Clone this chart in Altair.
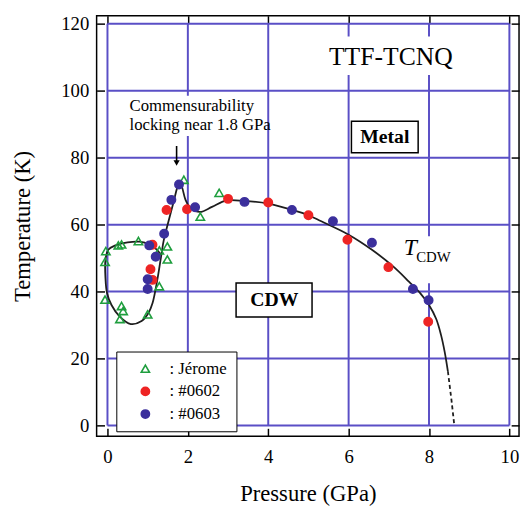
import altair as alt
import pandas as pd

FONT = "Liberation Serif"

# ---------------- data ----------------
SERIES = ["Jérome", "#0602", "#0603"]
SERIES_SHAPE = ["triangle-up", "circle", "circle"]
SERIES_STROKE = ["#1f9e3e", "#ee2424", "#3b2f9c"]
SERIES_FILL = ["transparent", "#ee2424", "#3b2f9c"]

jerome_p = [-0.04, -0.06, -0.06, 0.27, 0.35, 0.77, 1.29, 1.49, 1.49, 1.29, 1.00, 0.35, 0.39, 0.31, 1.90, 2.31, 2.78]
jerome_t = [52.1, 48.9, 37.6, 53.8, 54.1, 55.1, 52.3, 53.5, 49.6, 41.6, 33.2, 35.7, 34.2, 31.8, 73.4, 62.4, 69.5]

s0602_p = [1.12, 1.07, 1.12, 1.47, 1.98, 3.00, 4.00, 5.00, 5.97, 6.99, 7.98]
s0602_t = [54.0, 46.7, 43.5, 64.4, 64.6, 67.7, 66.6, 62.8, 55.5, 47.3, 31.0]

s0603_p = [1.00, 1.00, 1.04, 1.20, 1.41, 1.59, 1.78, 2.18, 3.41, 4.59, 5.61, 6.58, 7.60, 7.99]
s0603_t = [40.8, 43.7, 53.8, 50.4, 57.3, 67.4, 72.0, 65.2, 66.8, 64.4, 61.0, 54.6, 40.8, 37.4]

# guide curve T_CDW (drawn by hand in the original)
curve_p = [1.33, 1.22, 1.05, 0.80, 0.50, 0.20, 0.02, -0.05, -0.05, -0.01, 0.10, 0.30, 0.58, 0.85, 1.02,
           1.12, 1.24, 1.32, 1.40, 1.48, 1.65, 1.74, 1.80, 1.86, 1.94, 2.05, 2.30, 2.60, 2.95, 3.40,
           4.00, 4.59, 5.00, 5.32, 6.00, 6.58, 7.10, 7.50, 7.77, 8.00, 8.18, 8.30, 8.39, 8.47]
curve_t = [51.0, 52.6, 54.0, 54.9, 54.7, 53.8, 52.5, 49.5, 44.0, 39.5, 36.0, 32.6, 30.3, 31.2, 33.6,
           36.5, 43.5, 49.4, 55.3, 59.2, 67.0, 71.2, 72.8, 71.0, 67.5, 65.2, 63.8, 65.3, 67.2, 67.1,
           66.3, 64.4, 62.8, 61.0, 57.0, 52.5, 47.6, 43.0, 39.7, 36.0, 31.8, 27.0, 22.0, 16.2]
dash_p = [8.47, 8.56, 8.63]
dash_t = [16.2, 7.5, 0.0]

X_TICKS = [0, 2, 4, 6, 8, 10]
Y_TICKS = [0, 20, 40, 60, 80, 100, 120]
X_DOMAIN = [-0.27, 10.24]
Y_DOMAIN = [-3.2, 122.4]

# annotations
box_label = ["Metal", "CDW"]
box_p1 = [6.07, 3.20]
box_p2 = [7.73, 5.09]
box_t1 = [81.5, 32.4]
box_t2 = [90.9, 42.6]
box_tp = [6.90, 4.15]
box_tt = [86.2, 37.5]

bg_p1 = [5.40, 0.45, 7.30]
bg_p2 = [8.70, 3.85, 8.85]
bg_t1 = [104.7, 86.5, 42.5]
bg_t2 = [116.2, 98.5, 56.5]

note_text = ["Commensurability", "locking near 1.8 GPa"]
note_p = [0.55, 0.55]
note_t = [95.3, 89.7]

# ---------------- tables ----------------
pts = pd.DataFrame({
    "series": [SERIES[0]] * len(jerome_p) + [SERIES[1]] * len(s0602_p) + [SERIES[2]] * len(s0603_p),
    "P": jerome_p + s0602_p + s0603_p,
    "T": jerome_t + s0602_t + s0603_t,
})
curve = pd.DataFrame({"P": curve_p, "T": curve_t, "i": list(range(len(curve_p)))})
dash = pd.DataFrame({"P": dash_p, "T": dash_t, "i": list(range(len(dash_p)))})
vgrid = pd.DataFrame({"g": X_TICKS})
hgrid = pd.DataFrame({"g": Y_TICKS})
boxes = pd.DataFrame({"label": box_label, "p1": box_p1, "p2": box_p2, "t1": box_t1, "t2": box_t2,
                      "tp": box_tp, "tt": box_tt})
bgs = pd.DataFrame({"p1": bg_p1, "p2": bg_p2, "t1": bg_t1, "t2": bg_t2})
notes = pd.DataFrame({"text": note_text, "P": note_p, "T": note_t})

xs = alt.Scale(domain=X_DOMAIN, nice=False, zero=False)
ys = alt.Scale(domain=Y_DOMAIN, nice=False, zero=False)

GRID = "#5a4fc6"

ax_bottom = alt.Axis(orient="bottom", values=X_TICKS, grid=False, domain=False, tickSize=8, offset=-8,
                     tickColor="black", tickWidth=1.5, labelFont=FONT, labelFontSize=19, labelColor="black",
                     labelPadding=12, labelFlush=False, labelOverlap=False,
                     title="Pressure (GPa)", titleFont=FONT, titleFontSize=23, titleFontWeight="normal",
                     titleColor="black", titlePadding=16)
ax_left = alt.Axis(orient="left", values=Y_TICKS, grid=False, domain=False, tickSize=8, offset=-8,
                   tickColor="black", tickWidth=1.5, labelFont=FONT, labelFontSize=19, labelColor="black",
                   labelPadding=8, labelFlush=False, labelOverlap=False,
                   title="Temperature (K)", titleFont=FONT, titleFontSize=23, titleFontWeight="normal",
                   titleColor="black", titlePadding=27)
ax_top = alt.Axis(orient="top", values=X_TICKS, grid=False, domain=False, tickSize=8, offset=-8,
                  tickColor="black", tickWidth=1.5, labels=False, title="")
ax_right = alt.Axis(orient="right", values=Y_TICKS, grid=False, domain=False, tickSize=8, offset=-8,
                    tickColor="black", tickWidth=1.5, labels=False, title="")

# grid (bounded to the data range) + top/right ticks
vg = alt.Chart(vgrid).mark_rule(color=GRID, strokeWidth=2).encode(
    x=alt.X("g:Q", scale=xs, axis=ax_top),
    y=alt.Y(datum=0, scale=ys, axis=None),
    y2=alt.Y2(datum=120),
)
hg = alt.Chart(hgrid).mark_rule(color=GRID, strokeWidth=2).encode(
    y=alt.Y("g:Q", scale=ys, axis=ax_right),
    x=alt.X(datum=0, scale=xs, axis=None),
    x2=alt.X2(datum=10),
)

bg = alt.Chart(bgs).mark_rect(fill="white").encode(
    x=alt.X("p1:Q", scale=xs, axis=None), x2="p2",
    y=alt.Y("t1:Q", scale=ys, axis=None), y2="t2",
)

line = alt.Chart(curve).mark_line(color="#1e1e1e", strokeWidth=1.8, interpolate="catmull-rom").encode(
    x=alt.X("P:Q", scale=xs, axis=None),
    y=alt.Y("T:Q", scale=ys, axis=None),
    order="i:Q",
)
dline = alt.Chart(dash).mark_line(color="#1e1e1e", strokeWidth=1.8, strokeDash=[4, 3]).encode(
    x=alt.X("P:Q", scale=xs, axis=None),
    y=alt.Y("T:Q", scale=ys, axis=None),
    order="i:Q",
)

leg = alt.Legend(title=None, orient="none", legendX=20, legendY=341, direction="vertical",
                 fillColor="white", strokeColor="black", padding=9, symbolOffset=12, labelOffset=16,
                 rowPadding=5, labelFont=FONT, labelFontSize=17, labelColor="black", symbolSize=70,
                 symbolStrokeWidth=1.6, labelExpr="': ' + datum.label")

points = alt.Chart(pts).mark_point(size=72, strokeWidth=1.6, opacity=1).encode(
    x=alt.X("P:Q", scale=xs, axis=ax_bottom),
    y=alt.Y("T:Q", scale=ys, axis=ax_left),
    shape=alt.Shape("series:N", scale=alt.Scale(domain=SERIES, range=SERIES_SHAPE), legend=leg),
    stroke=alt.Stroke("series:N", scale=alt.Scale(domain=SERIES, range=SERIES_STROKE), legend=leg),
    fill=alt.Fill("series:N", scale=alt.Scale(domain=SERIES, range=SERIES_FILL), legend=leg),
)

box_rects = alt.Chart(boxes).mark_rect(fill="white", stroke="black", strokeWidth=1.5).encode(
    x=alt.X("p1:Q", scale=xs, axis=None), x2="p2",
    y=alt.Y("t1:Q", scale=ys, axis=None), y2="t2",
)
box_text = alt.Chart(boxes).mark_text(font=FONT, fontSize=20, fontWeight="bold", color="black",
                                      baseline="middle", align="center").encode(
    x=alt.X("tp:Q", scale=xs, axis=None),
    y=alt.Y("tt:Q", scale=ys, axis=None),
    text="label:N",
)
note_txt = alt.Chart(notes).mark_text(font=FONT, fontSize=17, color="black", baseline="middle",
                                      align="left").encode(
    x=alt.X("P:Q", scale=xs, axis=None),
    y=alt.Y("T:Q", scale=ys, axis=None),
    text="text:N",
)
title_txt = alt.Chart(pd.DataFrame({"text": ["TTF-TCNQ"], "P": [7.05], "T": [110.0]})).mark_text(
    font=FONT, fontSize=26, color="black", baseline="middle", align="center").encode(
    x=alt.X("P:Q", scale=xs, axis=None), y=alt.Y("T:Q", scale=ys, axis=None), text="text:N")
t_main = alt.Chart(pd.DataFrame({"text": ["T"], "P": [7.37], "T": [52.9]})).mark_text(
    font=FONT, fontSize=24, fontStyle="italic", color="black", baseline="middle", align="left").encode(
    x=alt.X("P:Q", scale=xs, axis=None), y=alt.Y("T:Q", scale=ys, axis=None), text="text:N")
t_sub = alt.Chart(pd.DataFrame({"text": ["CDW"], "P": [7.68], "T": [50.3]})).mark_text(
    font=FONT, fontSize=15, color="black", baseline="middle", align="left").encode(
    x=alt.X("P:Q", scale=xs, axis=None), y=alt.Y("T:Q", scale=ys, axis=None), text="text:N")

arrow_df = pd.DataFrame({"P": [1.72], "T1": [83.5], "T2": [79.0], "TH": [78.4]})
arrow_shaft = alt.Chart(arrow_df).mark_rule(color="black", strokeWidth=1.6).encode(
    x=alt.X("P:Q", scale=xs, axis=None), y=alt.Y("T1:Q", scale=ys, axis=None), y2="T2")
arrow_head = alt.Chart(arrow_df).mark_point(shape="triangle-down", filled=True, color="black", size=40,
                                            opacity=1).encode(
    x=alt.X("P:Q", scale=xs, axis=None), y=alt.Y("TH:Q", scale=ys, axis=None))

chart = alt.layer(
    vg, hg, bg, line, dline, points, box_rects, box_text, note_txt, title_txt, t_main, t_sub,
    arrow_shaft, arrow_head,
).resolve_axis(x="independent", y="independent").properties(
    width=429, height=427,
    padding={"left": 90, "top": 4, "right": 2, "bottom": 67},
    autosize=alt.AutoSizeParams(type="none"),
).configure_view(stroke="black", strokeWidth=1.5)

chart.save("out.html", embed_options={"renderer": "svg", "actions": False})
